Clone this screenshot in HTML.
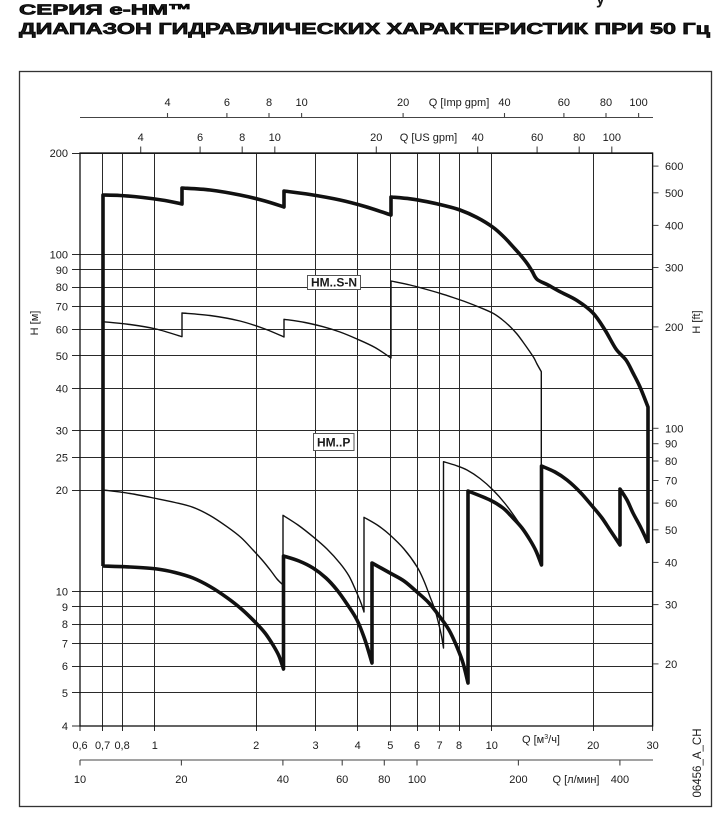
<!DOCTYPE html>
<html>
<head>
<meta charset="utf-8">
<style>
html,body{margin:0;padding:0;background:#fff;}
svg{display:block;}
text{font-family:"Liberation Sans","DejaVu Sans",sans-serif;fill:#1a1a1a;}
</style>
</head>
<body>
<svg id="chart" width="724" height="826" viewBox="0 0 724 826" xmlns="http://www.w3.org/2000/svg">
<!-- title -->
<text x="596" y="4" font-size="16" font-weight="bold">у</text>
<text x="19" y="14.5" font-size="15" font-weight="bold" stroke="#000" stroke-width="0.7" textLength="173" lengthAdjust="spacingAndGlyphs">СЕРИЯ  e-HM™</text>
<text x="19" y="34" font-size="15.5" font-weight="bold" stroke="#000" stroke-width="0.7" textLength="691" lengthAdjust="spacingAndGlyphs">ДИАПАЗОН ГИДРАВЛИЧЕСКИХ ХАРАКТЕРИСТИК ПРИ 50 Гц</text>

<!-- outer box -->
<rect x="19.5" y="71.5" width="692" height="735" fill="none" stroke="#333" stroke-width="1.3"/>

<!-- Imp gpm axis -->
<g stroke="#444" stroke-width="1.1">
<line x1="80" y1="117.5" x2="653" y2="117.5"/>
<line x1="167.5" y1="117.5" x2="167.5" y2="113"/>
<line x1="226.9" y1="117.5" x2="226.9" y2="113"/>
<line x1="269" y1="117.5" x2="269" y2="113"/>
<line x1="301.6" y1="117.5" x2="301.6" y2="113"/>
<line x1="403.1" y1="117.5" x2="403.1" y2="113"/>
<line x1="504.5" y1="117.5" x2="504.5" y2="113"/>
<line x1="563.9" y1="117.5" x2="563.9" y2="113"/>
<line x1="606" y1="117.5" x2="606" y2="113"/>
<line x1="638.6" y1="117.5" x2="638.6" y2="113"/>
</g>
<g font-size="11" text-anchor="middle">
<text x="167.5" y="106">4</text>
<text x="226.9" y="106">6</text>
<text x="269" y="106">8</text>
<text x="301.6" y="106">10</text>
<text x="403.1" y="106">20</text>
<text x="504.5" y="106">40</text>
<text x="563.9" y="106">60</text>
<text x="606" y="106">80</text>
<text x="638.6" y="106">100</text>
<text x="459" y="106">Q [Imp gpm]</text>
</g>

<!-- US gpm ticks -->
<g stroke="#444" stroke-width="1.1">
<line x1="140.7" y1="153" x2="140.7" y2="146.5"/>
<line x1="200.1" y1="153" x2="200.1" y2="146.5"/>
<line x1="242.2" y1="153" x2="242.2" y2="146.5"/>
<line x1="274.8" y1="153" x2="274.8" y2="146.5"/>
<line x1="376.3" y1="153" x2="376.3" y2="146.5"/>
<line x1="477.7" y1="153" x2="477.7" y2="146.5"/>
<line x1="537.1" y1="153" x2="537.1" y2="146.5"/>
<line x1="579.2" y1="153" x2="579.2" y2="146.5"/>
<line x1="611.8" y1="153" x2="611.8" y2="146.5"/>
</g>
<g font-size="11" text-anchor="middle">
<text x="140.7" y="141">4</text>
<text x="200.1" y="141">6</text>
<text x="242.2" y="141">8</text>
<text x="274.8" y="141">10</text>
<text x="376.3" y="141">20</text>
<text x="477.7" y="141">40</text>
<text x="537.1" y="141">60</text>
<text x="579.2" y="141">80</text>
<text x="611.8" y="141">100</text>
<text x="428.5" y="141">Q [US gpm]</text>
</g>

<!-- horizontal grid -->
<g stroke="#2a2a2a" stroke-width="1">
<line x1="72" y1="153.5" x2="653" y2="153.5"/>
<line x1="72" y1="254.5" x2="653" y2="254.5"/>
<line x1="72" y1="269.5" x2="653" y2="269.5"/>
<line x1="72" y1="287.5" x2="653" y2="287.5"/>
<line x1="72" y1="306.5" x2="653" y2="306.5"/>
<line x1="72" y1="329.5" x2="653" y2="329.5"/>
<line x1="72" y1="355.5" x2="653" y2="355.5"/>
<line x1="72" y1="388.5" x2="653" y2="388.5"/>
<line x1="72" y1="430.5" x2="653" y2="430.5"/>
<line x1="72" y1="457.5" x2="653" y2="457.5"/>
<line x1="72" y1="490.5" x2="653" y2="490.5"/>
<line x1="72" y1="591.5" x2="653" y2="591.5"/>
<line x1="72" y1="606.5" x2="653" y2="606.5"/>
<line x1="72" y1="624.5" x2="653" y2="624.5"/>
<line x1="72" y1="643.5" x2="653" y2="643.5"/>
<line x1="72" y1="666.5" x2="653" y2="666.5"/>
<line x1="72" y1="692.5" x2="653" y2="692.5"/>
<line x1="72" y1="726" x2="653" y2="726"/>
</g>
<!-- vertical grid -->
<g stroke="#2a2a2a" stroke-width="1">
<line x1="80" y1="153" x2="80" y2="731"/>
<line x1="102.5" y1="153" x2="102.5" y2="731"/>
<line x1="122.5" y1="153" x2="122.5" y2="731"/>
<line x1="154.5" y1="153" x2="154.5" y2="731"/>
<line x1="256.5" y1="153" x2="256.5" y2="731"/>
<line x1="315.5" y1="153" x2="315.5" y2="731"/>
<line x1="357.5" y1="153" x2="357.5" y2="731"/>
<line x1="390.5" y1="153" x2="390.5" y2="731"/>
<line x1="417.5" y1="153" x2="417.5" y2="731"/>
<line x1="439.5" y1="153" x2="439.5" y2="731"/>
<line x1="459.5" y1="153" x2="459.5" y2="731"/>
<line x1="491.5" y1="153" x2="491.5" y2="731"/>
<line x1="593.5" y1="153" x2="593.5" y2="731"/>
<line x1="652.6" y1="153" x2="652.6" y2="731"/>
</g>
<rect x="80" y="153" width="572.6" height="573" fill="none" stroke="#111" stroke-width="1.3"/>

<!-- left labels -->
<g font-size="11" text-anchor="end">
<text x="68" y="157">200</text>
<text x="68" y="258.4">100</text>
<text x="68" y="273.9">90</text>
<text x="68" y="291.2">80</text>
<text x="68" y="310.7">70</text>
<text x="68" y="333.3">60</text>
<text x="68" y="359.9">50</text>
<text x="68" y="392.6">40</text>
<text x="68" y="434.7">30</text>
<text x="68" y="461.3">25</text>
<text x="68" y="494">20</text>
<text x="68" y="595.4">10</text>
<text x="68" y="610.9">9</text>
<text x="68" y="628.2">8</text>
<text x="68" y="647.7">7</text>
<text x="68" y="670.2">6</text>
<text x="68" y="696.9">5</text>
<text x="68" y="730">4</text>
</g>
<text x="0" y="0" font-size="11" text-anchor="middle" transform="translate(38,323) rotate(-90)">H [м]</text>

<!-- right ft ticks -->
<g stroke="#444" stroke-width="1">
<line x1="653" y1="166.1" x2="658.5" y2="166.1"/>
<line x1="653" y1="192.8" x2="658.5" y2="192.8"/>
<line x1="653" y1="225.4" x2="658.5" y2="225.4"/>
<line x1="653" y1="267.5" x2="658.5" y2="267.5"/>
<line x1="653" y1="326.9" x2="658.5" y2="326.9"/>
<line x1="653" y1="428.3" x2="658.5" y2="428.3"/>
<line x1="653" y1="443.7" x2="658.5" y2="443.7"/>
<line x1="653" y1="461" x2="658.5" y2="461"/>
<line x1="653" y1="480.5" x2="658.5" y2="480.5"/>
<line x1="653" y1="503.1" x2="658.5" y2="503.1"/>
<line x1="653" y1="529.8" x2="658.5" y2="529.8"/>
<line x1="653" y1="562.4" x2="658.5" y2="562.4"/>
<line x1="653" y1="604.6" x2="658.5" y2="604.6"/>
<line x1="653" y1="663.9" x2="658.5" y2="663.9"/>
</g>
<g font-size="11" text-anchor="start">
<text x="665" y="170.1">600</text>
<text x="665" y="196.8">500</text>
<text x="665" y="229.4">400</text>
<text x="665" y="271.5">300</text>
<text x="665" y="330.9">200</text>
<text x="665" y="432.3">100</text>
<text x="665" y="447.7">90</text>
<text x="665" y="465">80</text>
<text x="665" y="484.5">70</text>
<text x="665" y="507.1">60</text>
<text x="665" y="533.8">50</text>
<text x="665" y="566.4">40</text>
<text x="665" y="608.6">30</text>
<text x="665" y="667.9">20</text>
</g>
<text x="0" y="0" font-size="11" text-anchor="middle" transform="translate(700,322) rotate(-90)">H [ft]</text>

<!-- bottom m3/h labels -->
<g font-size="11" text-anchor="middle">
<text x="80" y="749">0,6</text>
<text x="102.6" y="749">0,7</text>
<text x="122.1" y="749">0,8</text>
<text x="154.8" y="749">1</text>
<text x="256.2" y="749">2</text>
<text x="315.6" y="749">3</text>
<text x="357.7" y="749">4</text>
<text x="390.3" y="749">5</text>
<text x="417" y="749">6</text>
<text x="439.6" y="749">7</text>
<text x="459.1" y="749">8</text>
<text x="491.8" y="749">10</text>
<text x="593.2" y="749">20</text>
<text x="652.6" y="749">30</text>
</g>
<text x="522" y="743" font-size="11">Q [м<tspan font-size="7" dy="-4">3</tspan><tspan dy="4">/ч]</tspan></text>

<!-- l/min axis -->
<g stroke="#444" stroke-width="1.1">
<line x1="80" y1="760" x2="653" y2="760"/>
<line x1="80" y1="760" x2="80" y2="765.5"/>
<line x1="181.4" y1="760" x2="181.4" y2="765.5"/>
<line x1="282.9" y1="760" x2="282.9" y2="765.5"/>
<line x1="342.2" y1="760" x2="342.2" y2="765.5"/>
<line x1="384.3" y1="760" x2="384.3" y2="765.5"/>
<line x1="417" y1="760" x2="417" y2="765.5"/>
<line x1="518.4" y1="760" x2="518.4" y2="765.5"/>
<line x1="619.9" y1="760" x2="619.9" y2="765.5"/>
</g>
<g font-size="11" text-anchor="middle">
<text x="80" y="783">10</text>
<text x="181.4" y="783">20</text>
<text x="282.9" y="783">40</text>
<text x="342.2" y="783">60</text>
<text x="384.3" y="783">80</text>
<text x="417" y="783">100</text>
<text x="518.4" y="783">200</text>
<text x="619.9" y="783">400</text>
<text x="576" y="783">Q [л/мин]</text>
</g>
<text x="0" y="0" font-size="11.5" text-anchor="middle" transform="translate(701,763) rotate(-90)">06456_A_CH</text>

<!-- thin curves -->
<g fill="none" stroke="#111" stroke-width="1.4" stroke-linejoin="round">
<polyline class="smooth" points="103,321.7 130,324.5 156,329 182,336.7 182,313 210,315.5 240,321 265,329 284,337 284,319.3 305,322.5 323,326.7 340,332 357,339 375,347.5 391,358 391,281 410,285 425,289 440,293.3 453,297.5 466,302 480,307.5 493,313.3 502,319.5 510,326.5 517,334 523,342 529,350.5 534,358 537,364 541.3,371.7 541.3,560"/>
<polyline class="smooth" points="103,490 130,493.5 157,498.7 175,502.5 193,507.3 210,515.5 227,526.7 241,537.5 253,550 263,561 271,571 277,579 283,585 283,515.3 298,525 313,536.7 327,549 340,563.3 349,576 356,591 361,603 364,612 364,517.3 378,525.5 390,535 404,549 417,566.7 424,581 430,596.7 435,610 438.5,623 441.5,636 443.5,648 443.5,461.7 456,465.5 467,470 480,478.5 493,490 505,503.5 517,520 526,534 533,546.7 541.3,560"/>
</g>

<!-- thick curves -->
<g fill="none" stroke="#111" stroke-width="3.6" stroke-linejoin="round">
<polyline class="smooth" points="103,566 103,195 120,195.5 143,197.5 165,200.5 182,204 182,188 210,190 240,195 265,201 284,207 284,191 310,194.5 340,200 365,206.5 391,215 391,197 410,198.8 427,201.7 444,205.5 460,210 477,217.5 493,227.3 504,237 513,246.7 520,254.5 527,263.3 532,271 537,279.3 548,285 560,291.7 577,300.5 593,313 605,330 616,349 626,360 633,373 640,387 648,407 648,543"/>
<polyline class="smooth" points="103,566 130,567 157,569 175,572.5 193,578 210,586.5 227,597.7 242,609.5 256,623 265,633 273,645 279,656 283.5,669 283.5,556 299,561 313,568 326,578 337,590 347,604 357,620 365,640 372,663 372,563 390,573 404,581 417,592 429,603 440,617 449,630 457,647 463,663 468,683 468,491 490,500 503,508 513,518 522,528 530,540 536,551 541.5,565 541.5,466 555,472 567,480 580,492 593,507 602,518 610,530 620,545 620,489 627,500 633,513 641,528 648,543"/>
</g>

<!-- series labels -->
<rect x="307.5" y="275.5" width="53" height="14" fill="#fff" stroke="#555" stroke-width="1"/>
<text x="334" y="286.5" font-size="12" font-weight="bold" text-anchor="middle">HM..S-N</text>
<rect x="313.5" y="433.5" width="40.5" height="17" fill="#fff" stroke="#555" stroke-width="1"/>
<text x="333.7" y="446.5" font-size="12" font-weight="bold" text-anchor="middle">HM..P</text>
</svg>
<script>
(function(){
  var NS="http://www.w3.org/2000/svg";
  var pls=document.querySelectorAll("polyline.smooth");
  for(var k=0;k<pls.length;k++){
    var pl=pls[k];
    var raw=pl.getAttribute("points").trim().split(/\s+/);
    var P=raw.map(function(s){var a=s.split(",");return [parseFloat(a[0]),parseFloat(a[1])];});
    var n=P.length;
    function vert(a,b){return Math.abs(a[0]-b[0])<0.6;}
    function f(p){return p[0].toFixed(2)+","+p[1].toFixed(2);}
    var d="M"+f(P[0]);
    var i=0;
    while(i<n-1){
      if(vert(P[i],P[i+1])){d+=" L"+f(P[i+1]);i++;continue;}
      var j=i;
      while(j<n-1 && !vert(P[j],P[j+1])) j++;
      var R=P.slice(i,j+1);
      for(var m=0;m<R.length-1;m++){
        var p0=R[m>0?m-1:m],p1=R[m],p2=R[m+1],p3=R[m+2<R.length?m+2:m+1];
        var c1=[p1[0]+(p2[0]-p0[0])/6,p1[1]+(p2[1]-p0[1])/6];
        var c2=[p2[0]-(p3[0]-p1[0])/6,p2[1]-(p3[1]-p1[1])/6];
        d+=" C"+f(c1)+" "+f(c2)+" "+f(p2);
      }
      i=j;
    }
    var path=document.createElementNS(NS,"path");
    path.setAttribute("d",d);
    pl.parentNode.replaceChild(path,pl);
  }
})();
</script>
</body>
</html>
